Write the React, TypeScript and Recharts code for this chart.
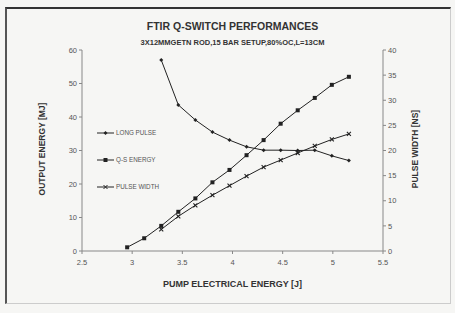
import React from "react";
import { Line, LineChart, XAxis, YAxis } from "recharts";

const pump = [2.95, 3.12, 3.29, 3.46, 3.63, 3.8, 3.97, 4.14, 4.31, 4.48, 4.65, 4.82, 4.99, 5.16];
const longPulse = [null, null, 57, 43.6, 39.1, 35.5, 33.1, 31.1, 30.1, 30.1, 30.0, 30.1, 28.4, 27.0];
const qsEnergy = [1.1, 3.8, 7.5, 11.7, 15.7, 20.5, 24.2, 28.6, 33.1, 38.0, 42.0, 45.7, 49.6, 52.0];
const pulseWidth = [null, null, 4.3, 6.9, 9.1, 11.1, 13.0, 14.9, 16.7, 18.1, 19.5, 20.9, 22.2, 23.3];

const xTicks = [2.5, 3, 3.5, 4, 4.5, 5, 5.5];
const leftTicks = [0, 10, 20, 30, 40, 50, 60];
const rightTicks = [0, 5, 10, 15, 20, 25, 30, 35, 40];

const data = pump.map((p, i) => ({
  pump: p,
  longPulse: longPulse[i],
  qsEnergy: qsEnergy[i],
  pulseWidth: pulseWidth[i],
}));

const FONT = "'Liberation Sans', Arial, sans-serif";
const INK = "#222";
const tick = { fill: "#555", fontSize: 7.5, fontFamily: FONT };

const DiamondDot = (props: any) => {
  const { cx, cy, key } = props;
  if (cx == null || cy == null) return <g key={key} />;
  return <path key={key} d={`M${cx},${cy - 2}L${cx + 2},${cy}L${cx},${cy + 2}L${cx - 2},${cy}Z`} fill={INK} />;
};
const SquareDot = (props: any) => {
  const { cx, cy, key } = props;
  if (cx == null || cy == null) return <g key={key} />;
  return <rect key={key} x={cx - 2} y={cy - 2} width={4} height={4} fill={INK} />;
};
const CrossDot = (props: any) => {
  const { cx, cy, key } = props;
  if (cx == null || cy == null) return <g key={key} />;
  return (
    <path key={key} d={`M${cx - 2},${cy - 2}L${cx + 2},${cy + 2}M${cx - 2},${cy + 2}L${cx + 2},${cy - 2}`} stroke={INK} strokeWidth={1.1} />
  );
};

const legendItems = [
  { label: "LONG PULSE", kind: "diamond" },
  { label: "Q-S ENERGY", kind: "square" },
  { label: "PULSE WIDTH", kind: "cross" },
];

function LegendBox() {
  return (
    <div style={{ position: "absolute", left: 97, top: 119, fontFamily: FONT }}>
      {legendItems.map((it) => (
        <div key={it.label} style={{ display: "flex", alignItems: "center", height: 27 }}>
          <svg width={17} height={6}>
            <line x1={0} y1={3} x2={17} y2={3} stroke={INK} strokeWidth={1} />
            {it.kind === "diamond" && <path d="M8.5,1L10.5,3L8.5,5L6.5,3Z" fill={INK} />}
            {it.kind === "square" && <rect x={6.5} y={1} width={4} height={4} fill={INK} />}
            {it.kind === "cross" && <path d="M6.5,1L10.5,5M6.5,5L10.5,1" stroke={INK} strokeWidth={1} />}
          </svg>
          <span style={{ fontSize: 6.3, color: "#555", marginLeft: 2 }}>{it.label}</span>
        </div>
      ))}
    </div>
  );
}

export default function App() {
  return (
    <div
      style={{
        position: "absolute",
        left: 0,
        top: 0,
        width: 455,
        height: 313,
        background: "#f6f6f4",
        fontFamily: FONT,
        overflow: "hidden",
      }}
    >
      <div
        style={{
          position: "absolute",
          left: 5,
          top: 7,
          width: 443,
          height: 294,
          borderTop: "2px solid #333",
          borderLeft: "2px solid #555",
          borderRight: "1px solid #ccc",
          borderBottom: "1px solid #ccc",
        }}
      />
      <div style={{ position: "absolute", left: 0, width: 465, top: 20, textAlign: "center", fontSize: 10.5, fontWeight: "bold", color: "#333" }}>
        FTIR Q-SWITCH PERFORMANCES
      </div>
      <div style={{ position: "absolute", left: 0, width: 465, top: 38, textAlign: "center", fontSize: 7.5, fontWeight: "bold", color: "#333" }}>
        3X12MMGETN ROD,15 BAR SETUP,80%OC,L=13CM
      </div>
      <div style={{ position: "absolute", left: 0, top: 0 }}>
        <LineChart width={455} height={313} data={data} margin={{ top: 50, right: 40, bottom: 42, left: 50 }}>
          <XAxis
            dataKey="pump"
            type="number"
            domain={[2.5, 5.5]}
            ticks={xTicks}
            tick={tick}
            stroke="#888"
            tickSize={3}
            height={20}
            tickMargin={6}
          />
          <YAxis
            yAxisId="left"
            domain={[0, 60]}
            ticks={leftTicks}
            tick={tick}
            stroke="#888"
            tickSize={3}
            width={32}
          />
          <YAxis
            yAxisId="right"
            orientation="right"
            domain={[0, 40]}
            ticks={rightTicks}
            tick={tick}
            stroke="#888"
            tickSize={3}
            width={32}
          />
          <Line yAxisId="left" dataKey="longPulse" stroke={INK} strokeWidth={1} dot={DiamondDot} isAnimationActive={false} connectNulls />
          <Line yAxisId="left" dataKey="qsEnergy" stroke={INK} strokeWidth={1} dot={SquareDot} isAnimationActive={false} connectNulls />
          <Line yAxisId="right" dataKey="pulseWidth" stroke={INK} strokeWidth={1} dot={CrossDot} isAnimationActive={false} connectNulls />
        </LineChart>
      </div>
      <LegendBox />
      <div
        style={{
          position: "absolute",
          left: 42 - 60,
          top: 150 - 6,
          width: 120,
          textAlign: "center",
          transform: "rotate(-90deg)",
          fontSize: 8.5,
          fontWeight: "bold",
          color: "#333",
          whiteSpace: "nowrap",
        }}
      >
        OUTPUT ENERGY [MJ]
      </div>
      <div
        style={{
          position: "absolute",
          left: 415 - 60,
          top: 150 - 6,
          width: 120,
          textAlign: "center",
          transform: "rotate(-90deg)",
          fontSize: 8.5,
          fontWeight: "bold",
          color: "#333",
          whiteSpace: "nowrap",
        }}
      >
        PULSE WIDTH [NS]
      </div>
      <div style={{ position: "absolute", left: 0, width: 465, top: 279, textAlign: "center", fontSize: 9, fontWeight: "bold", color: "#333" }}>
        PUMP ELECTRICAL ENERGY [J]
      </div>
    </div>
  );
}
